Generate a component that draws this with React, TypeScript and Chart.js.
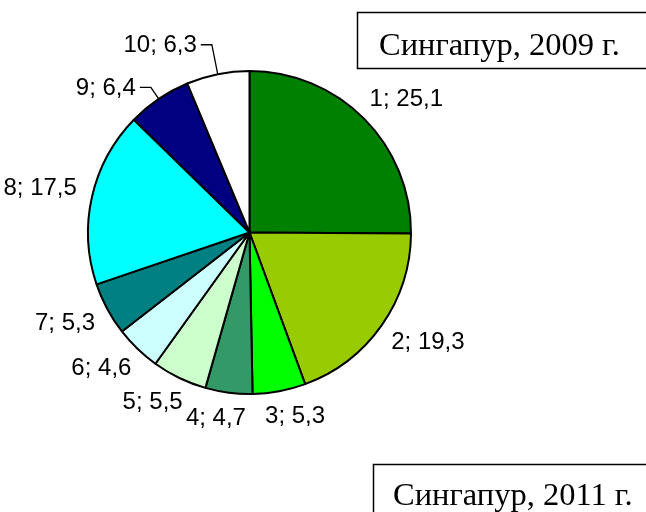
import React, { useEffect, useRef } from "react";
import { Chart, registerables } from "chart.js";

Chart.register(...registerables);

const categories = ["1", "2", "3", "4", "5", "6", "7", "8", "9", "10"];
const values = [25.1, 19.3, 5.3, 4.7, 5.5, 4.6, 5.3, 17.5, 6.4, 6.3];
const colors = [
  "#008000",
  "#99CC00",
  "#00FF00",
  "#339966",
  "#CCFFCC",
  "#CCFFFF",
  "#008080",
  "#00FFFF",
  "#000080",
  "#FFFFFF",
];
const titles = ["Сингапур, 2009 г.", "Сингапур, 2011 г."];

const LABEL_FONT = '24px "Liberation Sans", Arial, sans-serif';
const TITLE_FONT = '32.5px "Liberation Serif", "Times New Roman", serif';
// leader-line lengths (px beyond the rim) for labels pulled outward
const leaderLength: Record<number, number> = { 8: 14, 9: 30 };

const fmt = (v: number) => v.toFixed(1).replace(".", ",");

const labelPlugin = {
  id: "sliceLabels",
  afterDraw(chart: any) {
    const ctx = chart.ctx as CanvasRenderingContext2D;
    const meta = chart.getDatasetMeta(0);
    ctx.save();
    ctx.font = LABEL_FONT;
    ctx.fillStyle = "#000";
    ctx.strokeStyle = "#000";
    ctx.lineWidth = 1.3;
    ctx.textBaseline = "middle";
    meta.data.forEach((arc: any, i: number) => {
      const { x, y, startAngle, endAngle, outerRadius } = arc.getProps(
        ["x", "y", "startAngle", "endAngle", "outerRadius"],
        true
      );
      const mid = (startAngle + endAngle) / 2;
      const dx = Math.cos(mid);
      const dy = Math.sin(mid);
      const text = `${categories[i]}; ${fmt(values[i])}`;
      const w = ctx.measureText(text).width;
      const h = 20;
      const lead = leaderLength[i];
      if (lead) {
        const px = x + dx * outerRadius;
        const py = y + dy * outerRadius;
        const ex = x + dx * (outerRadius + lead);
        const ey = y + dy * (outerRadius + lead);
        const hx = ex - 11;
        ctx.beginPath();
        ctx.moveTo(px, py);
        ctx.lineTo(ex, ey);
        ctx.lineTo(hx, ey);
        ctx.stroke();
        ctx.textAlign = "right";
        ctx.fillText(text, hx - 4, ey + 1);
      } else {
        const gap = 16;
        const ax = x + dx * (outerRadius + gap);
        const ay = y + dy * (outerRadius + gap);
        const cx = ax + (Math.sign(dx) * Math.sqrt(Math.abs(dx)) * w) / 2;
        const cy = ay + (Math.sign(dy) * Math.sqrt(Math.abs(dy)) * h) / 2;
        ctx.textAlign = "center";
        ctx.fillText(text, cx, cy);
      }
    });
    ctx.restore();
  },
};

const titlePlugin = {
  id: "titleBoxes",
  afterDraw(chart: any) {
    const ctx = chart.ctx as CanvasRenderingContext2D;
    ctx.save();
    ctx.strokeStyle = "#000";
    ctx.lineWidth = 1.5;
    ctx.fillStyle = "#000";
    ctx.font = TITLE_FONT;
    ctx.textAlign = "left";
    ctx.textBaseline = "alphabetic";
    // box 1
    ctx.strokeRect(357.5, 12.5, 400, 56);
    ctx.fillText(titles[0], 379, 55);
    // box 2
    ctx.strokeRect(373.5, 464.5, 400, 100);
    ctx.fillText(titles[1], 393, 505);
    ctx.restore();
  },
};

export default function App() {
  const ref = useRef<HTMLCanvasElement | null>(null);
  useEffect(() => {
    if (!ref.current) return;
    const chart = new Chart(ref.current, {
      type: "pie",
      data: {
        labels: categories,
        datasets: [
          {
            data: values,
            backgroundColor: colors,
            borderColor: "#000",
            borderWidth: 2,
          },
        ],
      },
      options: {
        responsive: false,
        animation: false,
        layout: { padding: { left: 87, top: 70, right: 234, bottom: 117 } },
        plugins: {
          legend: { display: false },
          tooltip: { enabled: false },
        },
      },
      plugins: [labelPlugin, titlePlugin],
    });
    return () => chart.destroy();
  }, []);
  return (
    <div style={{ position: "absolute", left: 0, top: 0, width: 646, height: 512, background: "#fff" }}>
      <canvas ref={ref} width={646} height={512} />
    </div>
  );
}
